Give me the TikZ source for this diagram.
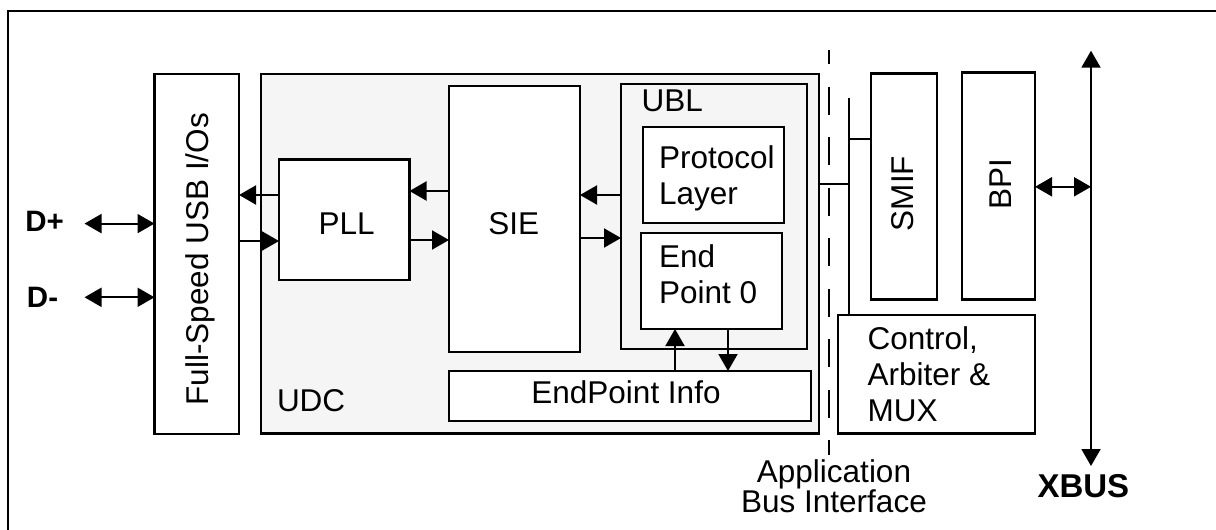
\documentclass[tikz,border=0pt]{standalone}
\usepackage{fontspec}
\setmainfont{Liberation Sans}
\usetikzlibrary{arrows.meta}
\definecolor{udcfill}{HTML}{F5F5F5}
\begin{document}
\begin{tikzpicture}[x=1pt,y=-1pt,
  box/.style={draw, line width=2.5pt, fill=white, outer sep=0pt, inner sep=0pt},
  graybox/.style={box, fill=udcfill},
  txt/.style={inner sep=0pt, outer sep=0pt, font=\fontsize{31.5}{36}\selectfont},
  btxt/.style={inner sep=0pt, outer sep=0pt, font=\bfseries\fontsize{29.5}{32}\selectfont},
  conn/.style={line width=2pt},
  arr/.style={conn, -{Triangle[length=17pt,width=19pt]}},
  dbl/.style={conn, {Triangle[length=17pt,width=19pt]}-{Triangle[length=17pt,width=19pt]}}
]
\useasboundingbox (0,0) rectangle (1216,530);
% frame
\coordinate (frBL) at (8,530);
\coordinate (frTL) at (8,11);
\coordinate (frTR) at (1216,11);
\draw[line width=2pt] (frBL) -- (frTL) -- (frTR);

% boxes
\node[box, minimum width=84.5pt, minimum height=360pt] (fs) at (196.75,254) {};
\node[graybox, minimum width=558pt, minimum height=359.5pt] (udc) at (540,253.75) {};
\node[box, minimum width=130.5pt, minimum height=120.5pt] (pll) at (344.25,219.75) {};
\node[box, minimum width=131pt, minimum height=266pt] (sie) at (514.5,219) {};
\node[graybox, minimum width=186pt, minimum height=265pt] (ubl) at (714,216.5) {};
\node[box, minimum width=141pt, minimum height=96pt] (prot) at (713.5,175) {};
\node[box, minimum width=141pt, minimum height=96pt] (ep0) at (711.5,281) {};
\node[box, minimum width=362pt, minimum height=50pt] (epi) at (630,396) {};
\node[box, minimum width=66pt, minimum height=226pt] (smif) at (904,186.5) {};
\node[box, minimum width=73pt, minimum height=227pt] (bpi) at (998.5,186) {};
\node[box, minimum width=197pt, minimum height=118.5pt] (ctl) at (936.5,374.25) {};

% texts
\node[txt, rotate=90] (fstxt) at (200.5,259.3) {Full-Speed USB I/Os};
\node[txt, anchor=base west] (udctxt) at (277,411.7) {UDC};
\node[txt, anchor=base] (plltxt) at (346.7,234) {PLL};
\node[txt, anchor=base] (sietxt) at (513.8,234) {SIE};
\node[txt, anchor=base west] (ubltxt) at (641.7,111.7) {UBL};
\node[txt, anchor=north west, align=left] (prottxt) at (659,146) {Protocol\\Layer};
\node[txt, anchor=north west, align=left] (ep0txt) at (659,244.5) {End\\Point 0};
\node[txt, anchor=base] (epitxt) at (626,403.3) {EndPoint Info};
\node[txt, rotate=90] (smiftxt) at (902.7,193.5) {SMIF};
\node[txt, rotate=90] (bpitxt) at (1000.5,184.6) {BPI};
\node[txt, anchor=north west, align=left] (ctltxt) at (867.6,327) {Control,\\Arbiter \&\\MUX};
\node[txt, anchor=north, align=center, font=\fontsize{31.5}{26}\selectfont] (abitxt) at (834,459.5) {Application\\Bus Interface};
\node[btxt, anchor=base west] (dplus) at (25.3,231.4) {D+};
\node[btxt, anchor=base west] (dminus) at (27,307.4) {D-};
\node[btxt, anchor=base, font=\bfseries\fontsize{33}{36}\selectfont] (xbus) at (1083.4,497) {XBUS};

% D+ / D- connectors
\coordinate (dpA) at (84.5,223.6);
\coordinate (dmA) at (84.5,297.3);
\draw[dbl] (dpA) -- (dpA -| fs.west);
\draw[dbl] (dmA) -- (dmA -| fs.west);

% PLL <-> FS
\draw[arr] (pll.west |- 0,195) -- (fs.east |- 0,195);
\draw[arr] (fs.east |- 0,241) -- (pll.west |- 0,241);
% SIE <-> PLL
\draw[arr] (sie.west |- 0,191) -- (pll.east |- 0,191);
\draw[arr] (pll.east |- 0,240) -- (sie.west |- 0,240);
% UBL <-> SIE
\draw[arr] (ubl.west |- 0,195) -- (sie.east |- 0,195);
\draw[arr] (sie.east |- 0,238) -- (ubl.west |- 0,238);
% EndPoint Info <-> EP0
\draw[arr] (epi.north -| 675,0) -- (ep0.south -| 675,0);
\draw[arr] (ep0.south -| 728,0) -- (epi.north -| 728,0);

% application bus
\coordinate (busTop) at (848.5,98);
\draw[conn] (busTop) -- (ctl.north -| busTop);
\draw[conn] (udc.east |- 0,184) -- (busTop |- 0,184);
\draw[conn] (busTop |- 0,139) -- (smif.west |- 0,139);

% dashed separation
\coordinate (dashTop) at (829,50);
\coordinate (dashBot) at (829,455);
\draw[line width=2pt, dash pattern=on 28pt off 22.5pt, dash phase=14pt] (dashTop) -- (dashBot);

% XBUS
\coordinate (xbT) at (1091,50.7);
\coordinate (xbB) at (1091,466);
\draw[dbl] (xbT) -- (xbB);
\draw[dbl] (bpi.east |- 0,186.8) -- (xbT |- 0,186.8);
\end{tikzpicture}
\end{document}
